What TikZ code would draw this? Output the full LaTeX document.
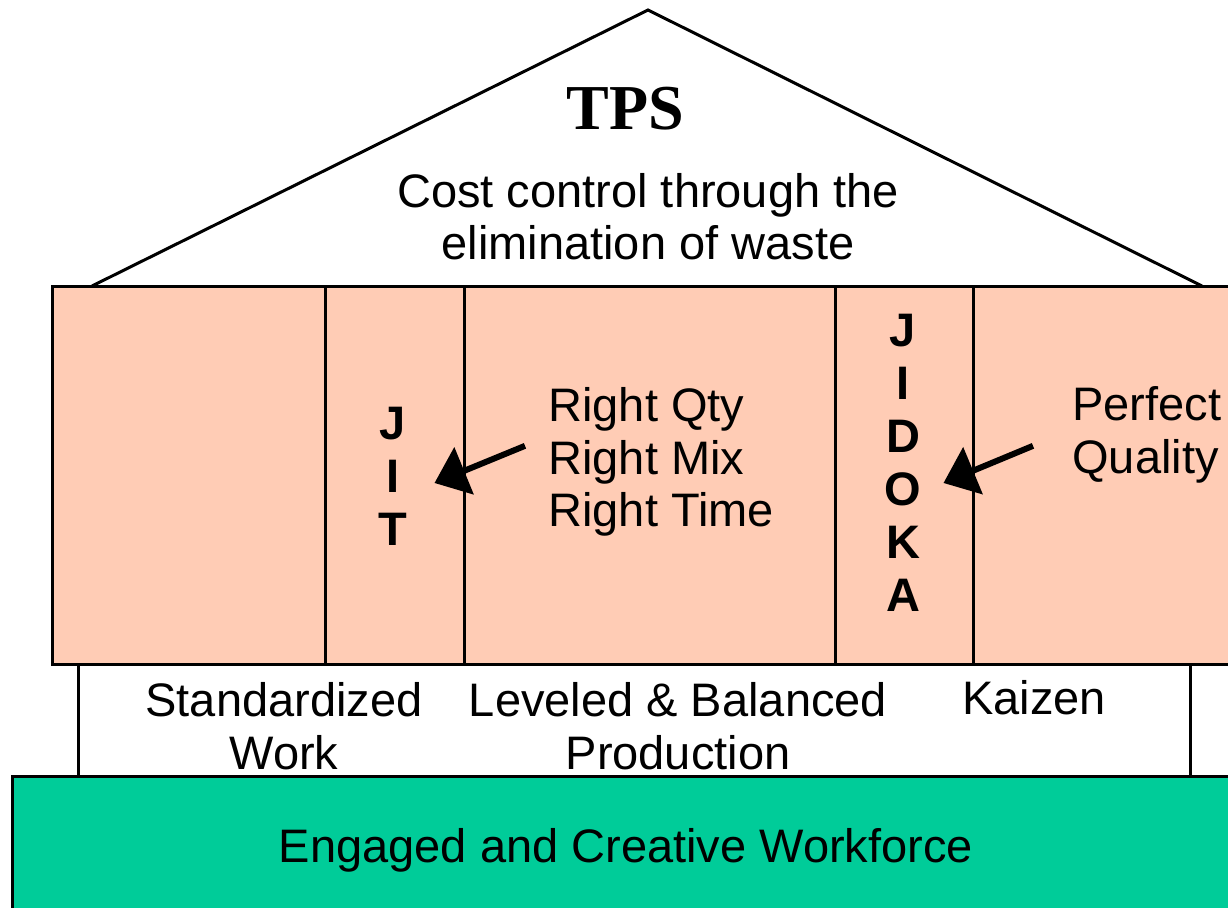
\documentclass[tikz,border=0pt]{standalone}
\usepackage{fontspec}
\setmainfont{Liberation Sans}
\newfontfamily\tpsfont{Liberation Serif}
\usetikzlibrary{calc,arrows.meta}
\definecolor{pillarpink}{RGB}{255,204,181}
\definecolor{basegreen}{RGB}{0,204,153}
\tikzset{
  housetext/.style={font=\fontsize{23.5}{26.5}\selectfont, inner sep=0pt},
  pillar/.style={draw, line width=1.5pt, fill=pillarpink, minimum height=189pt, inner sep=0pt},
  pointer/.style={-{Triangle[length=16pt,width=25pt]}, line width=3pt}
}
\begin{document}
\begin{tikzpicture}[x=0.5pt,y=-0.5pt]
\clip (0,0) rectangle (1228,908);

% roof
\coordinate (apex) at (648,10);
\draw[line width=1.5pt] (92,286) -- (apex) -- (1202,286);
\draw node [anchor=base, font=\tpsfont\bfseries\fontsize{32}{36}\selectfont, inner sep=0pt] at (625,130) (tps) {TPS};
\draw node [housetext, anchor=base] at (648,208) (goal1) {Cost control through the};
\draw node [housetext, anchor=base] at (648,260) (goal2) {elimination of waste};

% foundation and base
\draw node [draw, line width=1.5pt, fill=white, minimum width=556pt, minimum height=56pt, inner sep=0pt] at (634,721) (support) {};
\draw node [draw, line width=1.5pt, fill=basegreen, minimum width=614pt, minimum height=71.5pt, inner sep=0pt] at (626,848.5) (workforce) {};
\draw node [housetext, anchor=base] at (626,863) {Engaged and Creative Workforce};

% pillars
\draw node [pillar, minimum width=594pt] at (646,476) (band) {};
\draw node [pillar, minimum width=69.5pt] at (394.5,476) (jit) {};
\draw node [pillar, minimum width=69pt] at (904,476) (jidoka) {};

\draw node [housetext, font=\bfseries\fontsize{23.5}{26.5}\selectfont, anchor=base] at (393,440) {J};
\draw node [housetext, font=\bfseries\fontsize{23.5}{26.5}\selectfont, anchor=base] at (393,493) {I};
\draw node [housetext, font=\bfseries\fontsize{23.5}{26.5}\selectfont, anchor=base] at (393,546) {T};

\foreach \ch [count=\i from 0] in {J,I,D,O,K,A}
  \draw node [housetext, font=\bfseries\fontsize{23.5}{26.5}\selectfont, anchor=base] at (903,347+53*\i) {\ch};

\draw node [housetext, anchor=base west] at (548,422) (qty) {Right Qty};
\draw node [housetext, anchor=base west] at (548,475) (mix) {Right Mix};
\draw node [housetext, anchor=base west] at (548,527) (time) {Right Time};
\draw node [housetext, anchor=base west] at (1072,421) (perfect) {Perfect};
\draw node [housetext, anchor=base west] at (1072,474) (quality) {Quality};

\draw[pointer] ($ (mix.west)-(23,17)$) -- ($ (jit.east)+(-31,7)$);
\draw[pointer] ($ (quality.west)-(39,16)$) -- ($ (jidoka.east)+(-31,7)$);

% foundation labels
\draw node [housetext, anchor=base] at (284,717) {Standardized};
\draw node [housetext, anchor=base] at (284,770) {Work};
\draw node [housetext, anchor=base] at (678,717) {Leveled \& Balanced};
\draw node [housetext, anchor=base] at (678,770) {Production};
\draw node [housetext, anchor=base] at (1034,715) {Kaizen};

\end{tikzpicture}
\end{document}
